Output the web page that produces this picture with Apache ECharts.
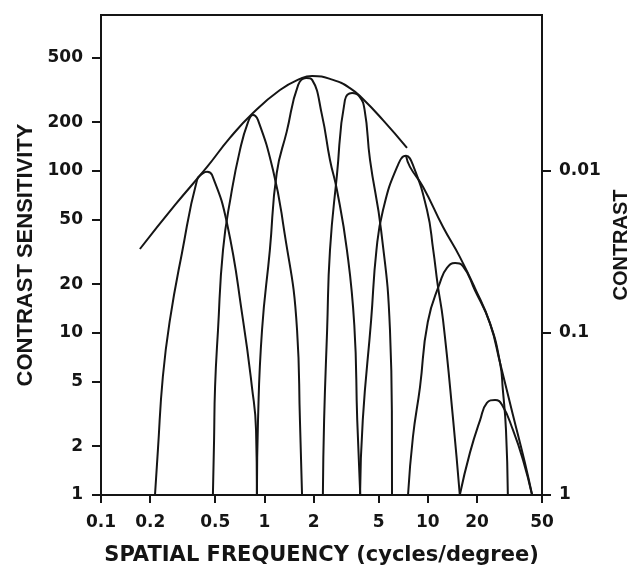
<!DOCTYPE html>
<html>
<head>
<meta charset="utf-8">
<script src="https://cdn.jsdelivr.net/npm/echarts@6/dist/echarts.min.js"></script>
<style>
html,body{margin:0;padding:0;background:#fff;}
#chart{width:628px;height:580px;}
</style>
</head>
<body>
<div id="chart"></div>
<script>
// Tick values and labels
const xTickValues = [0.1, 0.2, 0.5, 1, 2, 5, 10, 20, 50];
const xTickLabels = ['0.1', '0.2', '0.5', '1', '2', '5', '10', '20', '50'];
const yTickValues = [1, 2, 5, 10, 20, 50, 100, 200, 500];
const yTickLabels = ['1', '2', '5', '10', '20', '50', '100', '200', '500'];
const contrastTickValues = [1, 0.1, 0.01];
const contrastTickLabels = ['1', '0.1', '0.01'];

// Curves: [spatial frequency (c/deg), contrast sensitivity]
const channel1 = [[0.214,1],[0.223,1.9],[0.239,5.35],[0.264,12.0],[0.313,31.2],[0.387,88],[0.421,97],[0.446,99],[0.478,94.5],[0.590,47.7],[0.740,12.0],[0.839,4.64],[0.889,2.52],[0.90,1]];
const channel2 = [[0.484,1],[0.492,2.18],[0.499,4.64],[0.520,10.4],[0.558,32.5],[0.625,71],[0.709,135],[0.794,200],[0.851,222],[0.914,206],[1.13,101],[1.30,47.7],[1.585,10.4],[1.65,2.9],[1.70,1]];
const channel3 = [[0.90,1],[0.914,2.9],[0.967,10.4],[1.08,32.5],[1.19,97.2],[1.37,175],[1.61,340],[1.80,375],[1.96,365],[2.25,222],[2.52,117],[2.78,76.3],[3.20,32.5],[3.55,11.2],[3.70,2.9],[3.86,1]];
const channel4 = [[2.28,1],[2.32,2.9],[2.42,10.4],[2.52,32.5],[2.78,94.5],[3.11,274],[3.44,303],[3.80,290],[4.10,240],[4.43,117],[5.18,43],[5.87,10.4],[6.03,2.9],[6.04,1]];
const channel5 = [[3.85,1],[4.00,2.9],[4.50,12.0],[4.85,32.5],[5.32,57.4],[6.49,106],[7.36,124],[8.11,109],[9.89,57.4],[10.8,32.5],[11.5,19.8],[12.4,12.0],[14.3,2.9],[15.7,1]];
const channel6 = [[7.57,1],[8.11,2.28],[8.96,4.64],[10.0,11.7],[11.9,20.6],[13.1,25.2],[14.7,27.0],[16.4,25.9],[19.4,18.4],[24.0,11.5],[27.7,6.53],[28.8,4.45],[30.1,2.52],[30.9,1]];
const channel7 = [[15.7,1],[18.1,1.82],[20.9,2.9],[23.0,3.7],[25.8,3.86],[28.5,3.59],[33.2,2.52],[38.3,1.64],[43.5,1]];
const envelopeUpper = [[0.173,33.0],[0.284,61.7],[0.446,106],[0.615,160],[0.851,228],[1.245,316],[1.65,370],[1.96,386],[2.63,365],[3.34,325],[4.01,278],[5.32,206],[7.46,139]];
const envelopeLower = [[7.36,124],[7.78,106],[9.36,79.7],[12.4,45.1],[15.7,29.5],[19.4,19.0],[24.0,11.5],[27.7,6.53],[33.2,3.12],[39.3,1.58],[43.5,1]];

const L = Math.log10;
const toLog = arr => arr.map(p => [L(p[0]), L(p[1])]);
const near = (a, b) => Math.abs(a - b) < 1e-6;
const labelFor = (vals, labels, v, f) => {
  for (let i = 0; i < vals.length; i++) if (near(f(vals[i]), v)) return labels[i];
  return '';
};

const curves = [channel1, channel2, channel3, channel4, channel5, channel6, channel7, envelopeUpper, envelopeLower];
const ink = '#151515';

const yMax = L(918);
const chart = echarts.init(document.getElementById('chart'), null, {renderer: 'canvas'});
chart.setOption({
  backgroundColor: '#ffffff',
  animation: false,
  grid: {left: 101, right: 86, top: 15, bottom: 85, show: true, borderColor: ink, borderWidth: 2,
    backgroundColor: 'transparent', containLabel: false, outerBoundsMode: 'none'},
  xAxis: {
    type: 'value', min: -1, max: L(50),
    name: 'SPATIAL FREQUENCY (cycles/degree)', nameLocation: 'middle', nameGap: 50,
    nameTextStyle: {fontFamily: 'DejaVu Sans', fontWeight: 'bold', fontSize: 21, color: ink},
    axisLine: {show: true, onZero: false, lineStyle: {color: ink, width: 2}},
    axisTick: {show: true, length: 8, lineStyle: {color: ink, width: 2}, customValues: xTickValues.map(L)},
    axisLabel: {customValues: xTickValues.map(L), margin: 19, fontFamily: 'DejaVu Sans', fontWeight: 'bold', fontSize: 17, color: ink,
      formatter: v => labelFor(xTickValues, xTickLabels, v, L)},
    splitLine: {show: false}
  },
  yAxis: [{
    type: 'value', min: 0, max: yMax, position: 'left',
    name: 'CONTRAST SENSITIVITY', nameLocation: 'middle', nameGap: 62, nameRotate: 90,
    nameTextStyle: {fontFamily: 'Liberation Sans', fontWeight: 'bold', fontSize: 22, color: ink},
    axisLine: {show: true, onZero: false, lineStyle: {color: ink, width: 2}},
    axisTick: {show: true, length: 9, lineStyle: {color: ink, width: 2}, customValues: yTickValues.map(L)},
    axisLabel: {customValues: yTickValues.map(L), margin: 18, fontFamily: 'DejaVu Sans', fontWeight: 'bold', fontSize: 17, color: ink,
      formatter: v => labelFor(yTickValues, yTickLabels, v, L)},
    splitLine: {show: false}
  }, {
    type: 'value', min: 0, max: yMax, position: 'right',
    name: 'CONTRAST', nameLocation: 'middle', nameGap: 66, nameRotate: 90,
    nameTextStyle: {fontFamily: 'Liberation Sans', fontWeight: 'bold', fontSize: 20, color: ink, padding: [0, 0, 0, 20]},
    axisLine: {show: true, onZero: false, lineStyle: {color: ink, width: 2}},
    axisTick: {show: true, length: 9, lineStyle: {color: ink, width: 2}, customValues: contrastTickValues.map(c => -L(c))},
    axisLabel: {customValues: contrastTickValues.map(c => -L(c)), margin: 17, fontFamily: 'DejaVu Sans', fontWeight: 'bold', fontSize: 17, color: ink,
      formatter: v => labelFor(contrastTickValues, contrastTickLabels, v, c => -L(c))},
    splitLine: {show: false}
  }],
  series: curves.map(c => ({
    type: 'line', data: toLog(c), yAxisIndex: 0, showSymbol: false, symbol: 'none',
    smooth: 0.5, clip: true,
    lineStyle: {color: ink, width: 2}
  }))
});
</script>
</body>
</html>
